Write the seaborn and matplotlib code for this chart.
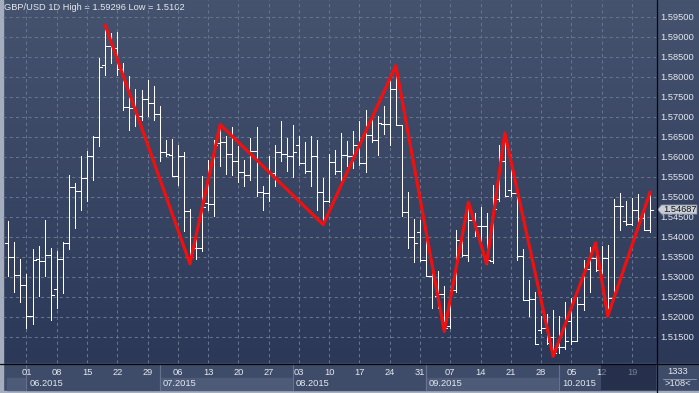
import numpy as np
import pandas as pd
import matplotlib
matplotlib.use("Agg")
import matplotlib.pyplot as plt
import seaborn as sns
from matplotlib.patches import Rectangle, Polygon
from matplotlib.colors import LinearSegmentedColormap

# ---------------- data ----------------
dates = pd.bdate_range("2015-05-27", "2015-10-22")  # daily trading bars

opens = [1.5385, 1.5350, 1.5304, 1.5280, 1.5202, 1.5345, 1.5339, 1.5355, 1.5270, 1.5345,
         1.5385, 1.5525, 1.5514, 1.5547, 1.5602, 1.5650, 1.5831, 1.5878, 1.5872, 1.5820,
         1.5725, 1.5722, 1.5702, 1.5745, 1.5735, 1.5707, 1.5612, 1.5605, 1.5553, 1.5602,
         1.5464, 1.5372, 1.5372, 1.5485, 1.5483, 1.5635, 1.5637, 1.5608, 1.5589, 1.5563,
         1.5556, 1.5614, 1.5512, 1.5510, 1.5560, 1.5612, 1.5608, 1.5602, 1.5631, 1.5585,
         1.5564, 1.5603, 1.5512, 1.5489, 1.5587, 1.5565, 1.5605, 1.5602, 1.5631, 1.5585,
         1.5656, 1.5642, 1.5682, 1.5682, 1.5771, 1.5681, 1.5462, 1.5400, 1.5412, 1.5342,
         1.5302, 1.5253, 1.5258, 1.5177, 1.5267, 1.5393, 1.5356, 1.5443, 1.5427, 1.5428,
         1.5339, 1.5495, 1.5589, 1.5518, 1.5510, 1.5353, 1.5243, 1.5245, 1.5167, 1.5172,
         1.5150, 1.5125, 1.5125, 1.5189, 1.5141, 1.5233, 1.5320, 1.5347, 1.5317, 1.5347,
         1.5247, 1.5477, 1.5439, 1.5433, 1.5467, 1.5448, 1.5418]
highs = [1.5441, 1.5388, 1.5346, 1.5308, 1.5371, 1.5378, 1.5443, 1.5373, 1.5366, 1.5388,
         1.5556, 1.5535, 1.5602, 1.5616, 1.5652, 1.5848, 1.59296, 1.5910, 1.5912, 1.5835,
         1.5803, 1.5771, 1.5768, 1.5792, 1.5778, 1.5727, 1.5642, 1.5646, 1.5631, 1.5612,
         1.5470, 1.5423, 1.5553, 1.5592, 1.5642, 1.5681, 1.5653, 1.5675, 1.5627, 1.5593,
         1.5648, 1.5674, 1.5528, 1.5602, 1.5631, 1.5691, 1.5648, 1.5681, 1.5652, 1.5637,
         1.5653, 1.5642, 1.5547, 1.5608, 1.5618, 1.5660, 1.5639, 1.5664, 1.5691, 1.5718,
         1.5703, 1.5703, 1.5727, 1.5792, 1.5828, 1.5681, 1.5512, 1.5445, 1.5442, 1.5403,
         1.5320, 1.5314, 1.5277, 1.5268, 1.5418, 1.5416, 1.5487, 1.5460, 1.5474, 1.5460,
         1.5531, 1.5631, 1.5660, 1.5570, 1.5512, 1.5370, 1.5292, 1.5262, 1.5202, 1.5208,
         1.5218, 1.5202, 1.5238, 1.5247, 1.5250, 1.5343, 1.5375, 1.5385, 1.5377, 1.5380,
         1.5495, 1.5510, 1.5489, 1.5497, 1.5508, 1.5481, 1.5512]
lows = [1.5302, 1.5262, 1.5238, 1.5172, 1.5182, 1.5252, 1.5303, 1.5192, 1.5222, 1.5259,
        1.5370, 1.5422, 1.5467, 1.5489, 1.5542, 1.5627, 1.5806, 1.5835, 1.5806, 1.5718,
        1.5668, 1.5677, 1.5693, 1.5702, 1.5693, 1.5589, 1.5602, 1.5552, 1.5531, 1.5414,
        1.5333, 1.5345, 1.5364, 1.5468, 1.5452, 1.5577, 1.5557, 1.5556, 1.5538, 1.5528,
        1.5542, 1.5502, 1.5467, 1.5489, 1.5528, 1.5589, 1.5564, 1.5550, 1.5581, 1.5560,
        1.5527, 1.5467, 1.5431, 1.5487, 1.5558, 1.5535, 1.5577, 1.5572, 1.5581, 1.5562,
        1.5637, 1.5605, 1.5658, 1.5631, 1.5681, 1.5453, 1.5372, 1.5337, 1.5339, 1.5302,
        1.5222, 1.5222, 1.5164, 1.5172, 1.5262, 1.5352, 1.5339, 1.5402, 1.5385, 1.5333,
        1.5336, 1.5490, 1.5502, 1.5502, 1.5343, 1.5243, 1.5202, 1.5133, 1.5160, 1.5133,
        1.5102, 1.5110, 1.5120, 1.5133, 1.5141, 1.5217, 1.5262, 1.5314, 1.5310, 1.5202,
        1.5247, 1.5417, 1.5431, 1.5431, 1.5437, 1.5417, 1.5412]
closes = [1.5350, 1.5304, 1.5280, 1.5202, 1.5342, 1.5339, 1.5355, 1.5255, 1.5345, 1.5385,
          1.5525, 1.5514, 1.5547, 1.5602, 1.5650, 1.5825, 1.5878, 1.5872, 1.5820, 1.5725,
          1.5722, 1.5702, 1.5745, 1.5735, 1.5707, 1.5612, 1.5608, 1.5553, 1.5602, 1.5464,
          1.5362, 1.5372, 1.5475, 1.5483, 1.5631, 1.5637, 1.5608, 1.5589, 1.5563, 1.5556,
          1.5614, 1.5512, 1.5510, 1.5560, 1.5612, 1.5608, 1.5602, 1.5612, 1.5585, 1.5564,
          1.5603, 1.5512, 1.5489, 1.5587, 1.5565, 1.5605, 1.5602, 1.5631, 1.5585, 1.5656,
          1.5642, 1.5685, 1.5682, 1.5771, 1.5681, 1.5462, 1.5400, 1.5385, 1.5342, 1.5302,
          1.5297, 1.5258, 1.5172, 1.5267, 1.5393, 1.5356, 1.5443, 1.5427, 1.5428, 1.5343,
          1.5470, 1.5589, 1.5503, 1.5510, 1.5353, 1.5243, 1.5245, 1.5133, 1.5172, 1.5135,
          1.5110, 1.5125, 1.5141, 1.5141, 1.5233, 1.5320, 1.5347, 1.5317, 1.5347, 1.5247,
          1.5477, 1.5477, 1.5433, 1.5467, 1.5448, 1.5418, 1.54687]

zigzag_dates = ["2015-06-18", "2015-07-08", "2015-07-15", "2015-08-07", "2015-08-25",
                "2015-09-04", "2015-09-10", "2015-09-15", "2015-09-18", "2015-09-30",
                "2015-10-09", "2015-10-13", "2015-10-22"]
zigzag_kind = ["H", "L", "H", "L", "H", "L", "H", "L", "H", "L", "H", "L", "H"]

price_ticks = [1.515, 1.520, 1.525, 1.530, 1.535, 1.540, 1.545, 1.550, 1.555,
               1.560, 1.565, 1.570, 1.575, 1.580, 1.585, 1.590, 1.595]
title_text = "GBP/USD 1D High = 1.59296 Low = 1.5102"
last_price_text = "1.54687"
counter_top = "1333"
counter_bottom = ">108<"

# ---------------- styling ----------------
sns.set_style("dark")
plt.rcParams["font.family"] = ["Liberation Sans", "DejaVu Sans"]
FS = 6.7
TXT = "#e4e8ef"

W, H = 699, 393
PLOT_L, PLOT_R, PLOT_B = 3, 656, 363
XMIN, XMAX = -0.875, 106.97
YMIN, YMAX = 1.5085, 1.59925

fig = plt.figure(figsize=(W / 100, H / 100), dpi=100)
fig.patch.set_facecolor("#3f4c6a")

# background layer (pixel coordinates)
bg = fig.add_axes([0, 0, 1, 1], zorder=0)
bg.set_xlim(0, W)
bg.set_ylim(H, 0)
bg.axis("off")
cmap = LinearSegmentedColormap.from_list("g", ["#46536f", "#2c3858"])
bg.imshow(np.linspace(0, 1, 256).reshape(-1, 1), extent=(0, W, PLOT_B, 0),
          aspect="auto", cmap=cmap, zorder=0)
bg.add_patch(Rectangle((0, PLOT_B), W, H - PLOT_B, color="#3e4b69", zorder=1))
bg.add_patch(Rectangle((0, 391), W, 2, color="#a4aebe", zorder=2))
bg.add_patch(Rectangle((0, 0), 2.5, H, color="#a4aebe", zorder=2))

def xpix(i):
    return PLOT_L + (i - XMIN) * (PLOT_R - PLOT_L) / (XMAX - XMIN)

# month strip
month_starts = []
for m in pd.date_range("2015-06-01", "2015-10-01", freq="MS"):
    k = int(np.searchsorted(dates.values, np.datetime64(m), side="right")) - 1
    month_starts.append((xpix(k), m.strftime("%m.%Y")))
edges = [7] + [p for p, _ in month_starts] + [PLOT_R]
for j in range(len(edges) - 1):
    col = "#4d5b79" if j % 2 == 0 else "#3e4b69"
    bg.add_patch(Rectangle((edges[j], 377.5), edges[j + 1] - edges[j], 12.5,
                           color=col, zorder=2))
for p, lab in month_starts:
    bg.plot([p, p], [363.5, 390], color="#65738f", lw=0.8, zorder=3)
    bg.text(p + 3, 383.5, lab, color=TXT, fontsize=FS, va="center", ha="left", zorder=4)

bg.text(4.5, 7.5, title_text, color=TXT, fontsize=FS, va="center", ha="left", zorder=4)
bg.text(678, 372, counter_top, color=TXT, fontsize=FS, va="center", ha="center", zorder=4)
bg.plot([663, 696], [378.5, 378.5], color="#8a94a6", lw=0.7, zorder=4)
bg.text(678, 383.5, counter_bottom, color=TXT, fontsize=FS, va="center", ha="center", zorder=4)

# ---------------- main chart ----------------
ax = fig.add_axes([PLOT_L / W, (H - PLOT_B) / H, (PLOT_R - PLOT_L) / W, PLOT_B / H], zorder=1)
ax.patch.set_alpha(0)
ax.set_xlim(XMIN, XMAX)
ax.set_ylim(YMIN, YMAX)
for s in ax.spines.values():
    s.set_visible(False)

idx = np.arange(len(dates))
o, h, l, c = map(np.asarray, (opens, highs, lows, closes))

mondays = [i for i, d in enumerate(dates) if d.weekday() == 0 and i > 0]
ax.set_xticks(mondays)
ax.set_xticklabels([dates[i].strftime("%d") for i in mondays])
ax.set_yticks(price_ticks)
ax.set_yticklabels([f"{v:.5f}" for v in price_ticks])
ax.yaxis.tick_right()
ax.tick_params(axis="y", length=0, pad=2.9, labelsize=FS, labelcolor=TXT)
ax.tick_params(axis="x", length=0, pad=3.6, labelsize=FS, labelcolor=TXT)
ax.grid(True, color="#66758f", lw=0.75, linestyle=(0, (3, 3)))
ax.set_axisbelow(True)

LW = 0.72
ax.vlines(idx, l, h, color="white", lw=LW, antialiased=False, zorder=3)
ax.hlines(o, idx - 0.5, idx, color="white", lw=LW, antialiased=False, zorder=3)
ax.hlines(c, idx, idx + 0.5, color="white", lw=LW, antialiased=False, zorder=3)

zz_idx = [dates.get_loc(pd.Timestamp(d)) for d in zigzag_dates]
zz_val = [h[i] if k == "H" else l[i] for i, k in zip(zz_idx, zigzag_kind)]
sns.lineplot(x=zz_idx, y=zz_val, ax=ax, color="#f01010", linewidth=2.3,
             estimator=None, sort=False, zorder=4)
ax.set_xlabel("")
ax.set_ylabel("")

# ---------------- overlay layer ----------------
top = fig.add_axes([0, 0, 1, 1], zorder=3)
top.set_xlim(0, W)
top.set_ylim(H, 0)
top.axis("off")
top.patch.set_alpha(0)
top.plot([656.5, 656.5], [0, H], color="#080808", lw=0.9)
top.plot([0, W], [363.5, 363.5], color="#080808", lw=0.9)
top.add_patch(Rectangle((600.7, 364.2), 55.5, 25.8, color="#0f1730", alpha=0.5, lw=0))

fig.canvas.draw()
yp = H - ax.transData.transform((0, c[-1]))[1]
top.add_patch(Polygon([(657.5, yp), (661.5, yp - 4.6), (697, yp - 4.6), (697, yp + 4.6),
                       (661.5, yp + 4.6)], closed=True, facecolor="#c9ced7",
                      edgecolor="#7d8799", lw=0.5))
top.text(663, yp, last_price_text, color="#151515", fontsize=FS, va="center", ha="left")

fig.savefig("out.png", dpi=100, facecolor=fig.get_facecolor())
